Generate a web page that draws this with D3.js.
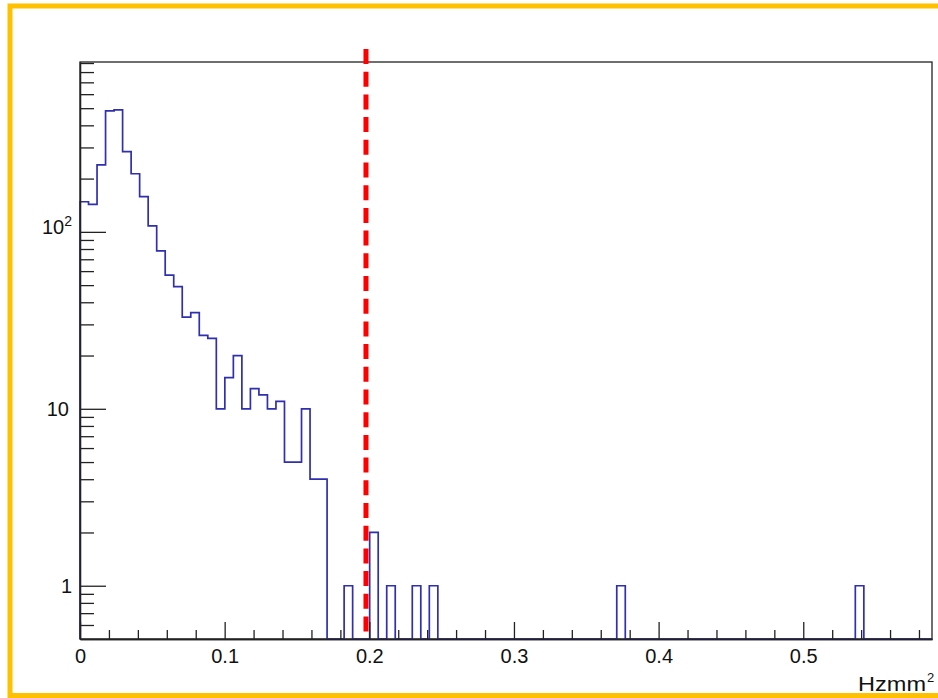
<!DOCTYPE html>
<html>
<head>
<meta charset="utf-8">
<script src="https://cdn.jsdelivr.net/npm/d3@7"></script>
<style>
  html, body { margin: 0; padding: 0; background: #fff; }
  svg { display: block; }
  text { font-family: "Liberation Sans", Arial, Helvetica, sans-serif; fill: #111; }
</style>
</head>
<body>
<svg id="chart" width="938" height="698"></svg>
<script>
// ---- data ----
const xMin = 0, xMax = 0.589;          // histogram range
const nBins = 100;
// bin contents, bin index -> count (only non-zero bins listed)
const binIndex = [0, 1, 2, 3, 4, 5, 6, 7, 8, 9, 10, 11, 12, 13, 14, 15, 16, 17, 18, 19,
                  20, 21, 22, 23, 24, 25, 26, 27, 28, 31, 34, 36, 39, 41, 63, 91];
const binCount = [148, 143, 239, 483, 489, 284, 213, 158, 108, 78, 57, 49, 33, 35, 26, 25, 10, 15, 20, 10,
                  13, 12, 10, 11, 5, 5, 10, 4, 4, 1, 2, 1, 1, 1, 1, 1];
const cutValue = 0.1977;
const yMin = 0.5, yMax = 912;

const xMajorTicks = [0, 0.1, 0.2, 0.3, 0.4, 0.5];
const xMajorLabels = ["0", "0.1", "0.2", "0.3", "0.4", "0.5"];
const xMinorTicks = [0.02, 0.04, 0.06, 0.08, 0.12, 0.14, 0.16, 0.18, 0.22, 0.24, 0.26, 0.28,
                     0.32, 0.34, 0.36, 0.38, 0.42, 0.44, 0.46, 0.48, 0.52, 0.54, 0.56, 0.58];
const yMajorTicks = [1, 10, 100];
const yMajorLabels = ["1", "10", "10|2"];
const yMinorTicks = [0.6, 0.7, 0.8, 0.9, 2, 3, 4, 5, 6, 7, 8, 9,
                     20, 30, 40, 50, 60, 70, 80, 90, 200, 300, 400, 500, 600, 700, 800, 900];
const xTitle = "Hzmm", xTitleSup = "2";

// ---- layout ----
const L = 80, T = 62, R = 932, B = 639;
const svg = d3.select("#chart");

// yellow outer border
svg.append("rect").attr("x", 10).attr("y", 6).attr("width", 960).attr("height", 689.5)
  .attr("fill", "none").attr("stroke", "#FFC000").attr("stroke-width", 5);

const x = d3.scaleLinear().domain([xMin, xMax]).range([L, R]);
const y = d3.scaleLog().domain([yMin, yMax]).range([B, T]);

// full counts
const counts = new Array(nBins).fill(0);
binIndex.forEach((b, i) => { counts[b] = binCount[i]; });
const bw = (xMax - xMin) / nBins;

// histogram outline
const pts = [[xMin, yMin]];
counts.forEach((c, i) => {
  const v = c > 0 ? c : yMin;
  pts.push([xMin + i * bw, v]);
  pts.push([xMin + (i + 1) * bw, v]);
});
pts.push([xMax, yMin]);

// frame
svg.append("rect").attr("x", L).attr("y", T).attr("width", R - L).attr("height", B - T)
  .attr("fill", "none").attr("stroke", "#222").attr("stroke-width", 1.3);

svg.append("path")
  .attr("d", d3.line().x(d => x(d[0])).y(d => y(d[1]))(pts))
  .attr("fill", "none").attr("stroke", "#2F2FB0").attr("stroke-width", 1.7)
  .attr("stroke-linejoin", "miter");

const FONT = "'Liberation Sans', Arial, sans-serif";

// x axis
const gxMinor = svg.append("g").attr("transform", `translate(0,${B})`)
  .call(d3.axisBottom(x).tickValues(xMinorTicks).tickSize(-9).tickSizeOuter(0).tickFormat(""));
const gx = svg.append("g").attr("transform", `translate(0,${B})`)
  .call(d3.axisBottom(x).tickValues(xMajorTicks).tickSize(-17).tickSizeOuter(0)
    .tickFormat((d, i) => xMajorLabels[i]));
gx.selectAll("text").attr("y", 24).attr("dy", 0).style("font-size", "20px")
  .style("font-family", FONT).attr("fill", "#111");

// y axis
const gyMinor = svg.append("g").attr("transform", `translate(${L},0)`)
  .call(d3.axisLeft(y).tickValues(yMinorTicks).tickSize(-14).tickSizeOuter(0).tickFormat(""));
const gy = svg.append("g").attr("transform", `translate(${L},0)`)
  .call(d3.axisLeft(y).tickValues(yMajorTicks).tickSize(-26).tickSizeOuter(0)
    .tickFormat((d, i) => yMajorLabels[i]));
gy.selectAll("text").each(function(d, i) {
  const t = d3.select(this);
  const lab = yMajorLabels[i];
  t.style("font-size", "20px").style("font-family", FONT)
    .attr("fill", "#111").attr("dy", 0);
  if (lab.includes("|")) {
    const [base, sup] = lab.split("|");
    t.text(null).attr("x", -8).attr("y", 1.5);
    t.append("tspan").text(base);
    t.append("tspan").text(sup).attr("dy", -8).style("font-size", "14px");
  } else {
    t.attr("x", lab.length > 1 ? -11 : -8).attr("y", 7);
  }
});

[gx, gxMinor, gy, gyMinor].forEach(g => {
  g.selectAll("line").attr("stroke", "#222").attr("stroke-width", 1.3);
  g.select(".domain").attr("stroke", "#222").attr("stroke-width", 1.3);
});

// cut line
svg.append("line")
  .attr("x1", x(cutValue)).attr("x2", x(cutValue))
  .attr("y1", T - 13).attr("y2", B)
  .attr("stroke", "#FF0000").attr("stroke-width", 5)
  .attr("stroke-dasharray", "15,7.7");

// x title
svg.append("text").attr("x", 858).attr("y", 691).text(xTitle)
  .attr("textLength", 68).attr("lengthAdjust", "spacingAndGlyphs").style("font-size", "20px");
svg.append("text").attr("x", 927).attr("y", 682).text(xTitleSup).style("font-size", "13px");
</script>
</body>
</html>
